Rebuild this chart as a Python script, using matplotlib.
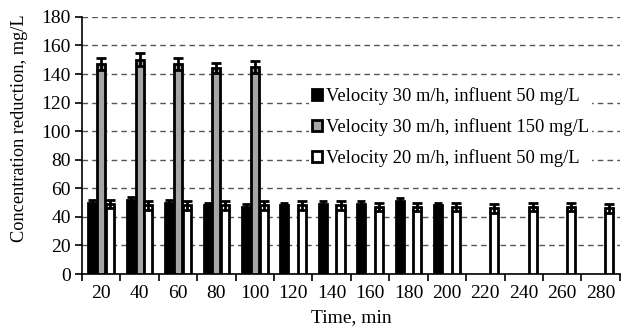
import matplotlib.pyplot as plt
import numpy as np

times = [20, 40, 60, 80, 100, 120, 140, 160, 180, 200, 220, 240, 260, 280]
v30_c50 = [50, 52, 50, 48, 47, 48, 49, 49, 51, 48]
v30_c50_err = [2, 2, 2, 2, 2, 2, 2, 2, 2, 2]
v30_c150 = [147, 150, 147, 144, 145]
v30_c150_err = [4, 4.5, 4, 3.5, 4]
v20_c50 = [49, 48, 48, 48, 48, 48, 48, 47, 47, 47, 46, 47, 47, 46]
v20_c50_err = [3, 3, 3, 3, 3, 3, 3, 3, 3, 3, 3, 3, 3, 3]

labels = ["Velocity 30 m/h, influent 50 mg/L",
          "Velocity 30 m/h, influent 150 mg/L",
          "Velocity 20 m/h, influent 50 mg/L"]

plt.rcParams['font.family'] = ['Liberation Serif', 'DejaVu Serif']


def draw_series(ax, values, errors, offset, color, label, cap=3.5):
    x = np.arange(len(values)) + offset
    ax.bar(x, values, width=0.21, color=color, edgecolor='black',
           linewidth=2, label=label, zorder=3)
    ax.errorbar(x, values, yerr=errors, fmt='none', ecolor='black',
                elinewidth=2, capsize=cap, capthick=2, zorder=4)


fig = plt.figure(figsize=(6.26, 3.31), dpi=100)
ax = fig.add_axes([0.131, 0.172, 0.859, 0.777])

draw_series(ax, v30_c50, v30_c50_err, -0.23, 'black', labels[0], cap=3)
draw_series(ax, v30_c150, v30_c150_err, 0.0, '#a6a6a6', labels[1])
draw_series(ax, v20_c50, v20_c50_err, 0.23, 'white', labels[2])

ax.set_xlim(-0.5, len(times) - 0.5)
ax.set_ylim(0, 180)
ax.set_yticks(np.arange(0, 181, 20))
ax.set_xticks(np.arange(len(times)))
ax.set_xticklabels([str(t) for t in times])
ax.set_xticks(np.arange(len(times) + 1) - 0.5, minor=True)
ax.tick_params(axis='x', which='major', length=0, pad=8, labelsize=14)
ax.tick_params(axis='x', which='minor', length=5, width=1.2)
ax.tick_params(axis='y', length=5, width=1.2, labelsize=14, pad=3)
ax.yaxis.grid(True, linestyle=(0, (4, 3)), color='#555555', linewidth=1,
              zorder=0)
ax.set_axisbelow(True)

for side in ['top', 'right']:
    ax.spines[side].set_visible(False)
for side in ['left', 'bottom']:
    ax.spines[side].set_linewidth(1.2)

ax.set_xlabel("Time, min", fontsize=14, labelpad=5)
ax.set_ylabel("Concentration reduction, mg/L", fontsize=13.2)
ax.yaxis.set_label_coords(-0.100, 0.568)

leg = ax.legend(loc='upper left', bbox_to_anchor=(0.405, 0.775), frameon=True,
                fontsize=13.3, handlelength=0.55, handleheight=0.55,
                handletextpad=0.2, labelspacing=0.72, borderpad=0.15)
leg.get_frame().set_edgecolor('none')
leg.get_frame().set_facecolor('white')
leg.get_frame().set_alpha(1)
leg.set_zorder(5)

fig.savefig("out.png", dpi=100)
